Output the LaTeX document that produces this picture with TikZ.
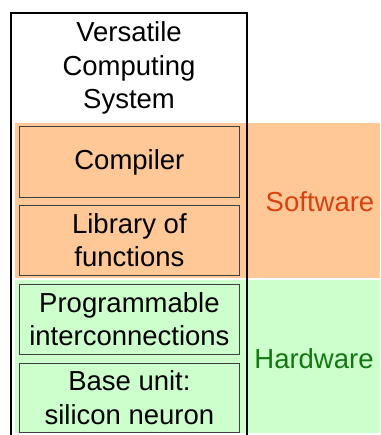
\documentclass[tikz,border=0pt]{standalone}
\usepackage{fontspec}
\setmainfont{Liberation Sans}
\definecolor{swfill}{HTML}{FFC896}
\definecolor{hwfill}{HTML}{CCFFCC}
\definecolor{swtext}{HTML}{D9420F}
\definecolor{hwtext}{HTML}{117711}
\begin{document}
\begin{tikzpicture}[x=1pt,y=-1pt,
  txt/.style={font=\fontsize{27.5}{33.5}\selectfont, align=center},
  inbox/.style={draw=black!75, line width=0.8pt, anchor=north west, inner sep=0pt, txt},
]
\useasboundingbox (0,0) rectangle (380,435);
\fill[white] (0,0) rectangle (380,435);
% bands
\fill[swfill] (15,123) rectangle (380,278);
\fill[hwfill] (15,280) rectangle (380,433);
% inner boxes
\node[inbox, fill=swfill, minimum width=220pt, minimum height=71pt] (comp) at (19,126) {Compiler};
\node[inbox, fill=swfill, minimum width=220pt, minimum height=70pt] (lib) at (19,205) {Library of\\functions};
\node[inbox, fill=hwfill, minimum width=220pt, minimum height=70pt] (prog) at (19,284) {Programmable\\interconnections};
\node[inbox, fill=hwfill, minimum width=220pt, minimum height=69pt] (base) at (19,363) {Base unit:\\silicon neuron};
% title
\node[txt] (title) at (129,68) {Versatile\\Computing\\System};
% side labels
\node[txt, text=swtext] (sw) at (320,202) {Software};
\node[txt, text=hwtext] (hw) at (314,359) {Hardware};
% outer frame
\draw[line width=2.6pt, line cap=rect] (11,437) -- (11,13) -- (247,13) -- (247,437);
\end{tikzpicture}
\end{document}
